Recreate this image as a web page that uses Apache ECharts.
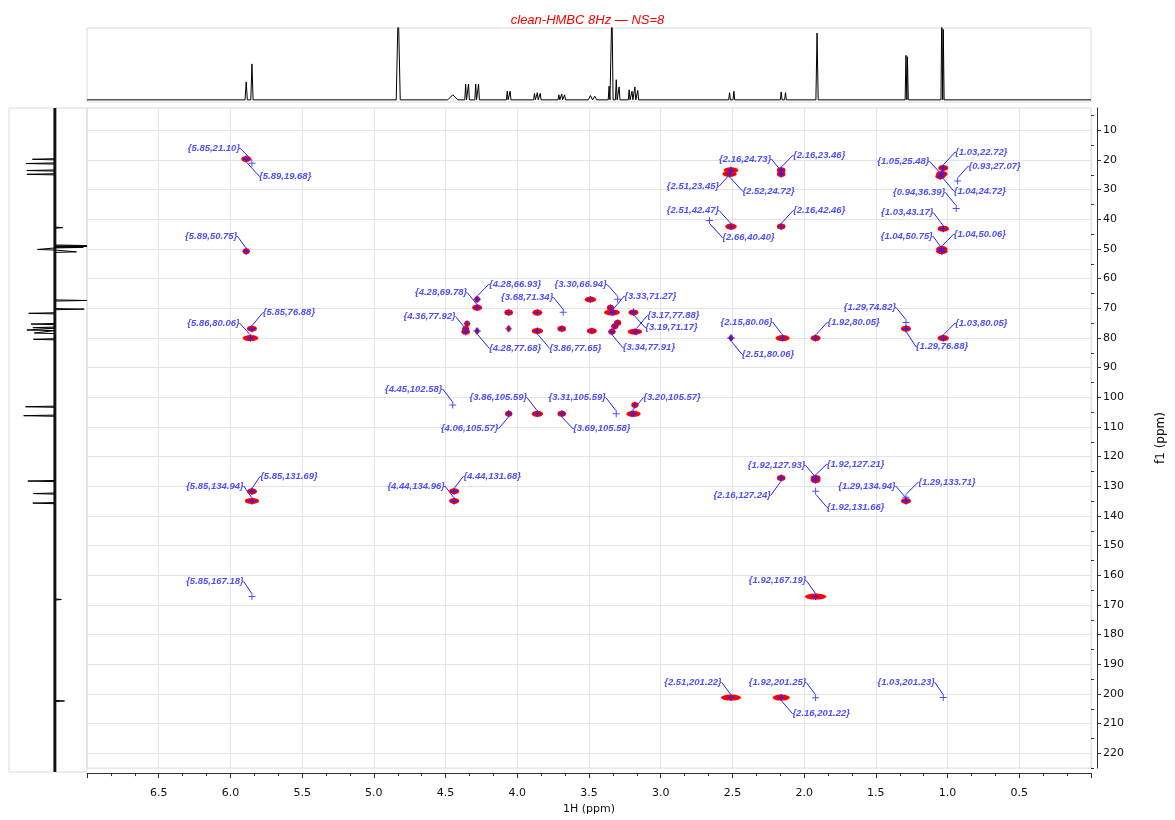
<!DOCTYPE html>
<html>
<head>
<meta charset="utf-8">
<title>clean-HMBC 8Hz</title>
<script src="https://cdn.jsdelivr.net/npm/echarts@6/dist/echarts.min.js"></script>
<style>html,body{margin:0;padding:0;background:#fff;}</style>
</head>
<body>
<div id="main" style="width:1175px;height:820px;"></div>
<script>
// 1H projection: [ppm, height, half width in ppm]
var hPeaks = [
  [5.89, 0.25, 0.008], [5.85, 0.50, 0.008],
  [4.83, 1.30, 0.014],
  [4.45, 0.07, 0.035],
  [4.36, 0.22, 0.006], [4.34, 0.22, 0.006], [4.29, 0.22, 0.006], [4.27, 0.22, 0.006],
  [4.07, 0.12, 0.006], [4.05, 0.12, 0.006],
  [3.88, 0.09, 0.006], [3.86, 0.10, 0.006], [3.84, 0.09, 0.006],
  [3.71, 0.07, 0.006], [3.69, 0.08, 0.006], [3.67, 0.07, 0.006],
  [3.49, 0.06, 0.015], [3.46, 0.05, 0.015],
  [3.36, 0.19, 0.006], [3.34, 1.30, 0.008], [3.31, 0.28, 0.006], [3.29, 0.18, 0.006],
  [3.22, 0.14, 0.006], [3.20, 0.12, 0.006], [3.18, 0.18, 0.006], [3.16, 0.13, 0.006],
  [2.65, 0.01, 0.005],
  [2.52, 0.10, 0.006], [2.49, 0.12, 0.006],
  [2.16, 0.11, 0.006], [2.13, 0.10, 0.006],
  [1.91, 0.93, 0.008],
  [1.29, 0.62, 0.006], [1.28, 0.60, 0.006],
  [1.04, 1.30, 0.006], [1.03, 0.98, 0.006],
  [0.93, 0.01, 0.010]
];

// 13C projection: [ppm, intensity] (negative = drawn to the right)
var cPeaks = [
  [19.68, 0.49], [21.10, 0.63], [23.45, 0.61], [24.72, 0.61],
  [42.6, -0.17],
  [48.6, -0.70], [48.9, -0.70], [49.2, -0.62],
  [49.9, 0.38], [50.7, -0.47],
  [67.0, -0.70], [69.9, -0.64],
  [71.3, 0.57], [74.9, 0.52], [76.1, 0.48], [76.9, 0.61], [77.9, 0.45], [80.0, 0.47],
  [102.6, 0.64], [105.6, 0.68],
  [127.5, 0.59], [131.7, 0.47], [134.9, 0.48],
  [167.2, -0.14],
  [201.2, -0.21]
];

// HMBC contour spots: [1H ppm, 13C ppm, spread in 1H ppm]
var contourPeaks = [
  [5.89, 19.68, 0.07], [5.89, 50.75, 0.05], [5.85, 76.88, 0.07], [5.86, 80.06, 0.11],
  [5.85, 131.69, 0.07], [5.85, 134.94, 0.10],
  [4.28, 66.93, 0.04], [4.28, 69.78, 0.07], [4.06, 71.45, 0.06], [3.86, 71.45, 0.07],
  [3.49, 67.05, 0.08], [3.35, 69.80, 0.05], [3.34, 71.40, 0.11], [3.19, 71.40, 0.07],
  [4.35, 75.20, 0.04], [4.36, 77.00, 0.05], [4.36, 77.92, 0.06], [4.28, 77.68, 0.03],
  [4.06, 76.90, 0.03], [3.86, 77.65, 0.08], [3.69, 76.90, 0.06], [3.48, 77.65, 0.07],
  [3.30, 74.90, 0.05], [3.32, 76.10, 0.05], [3.34, 77.91, 0.05], [3.18, 77.90, 0.10],
  [4.06, 105.57, 0.05], [3.86, 105.59, 0.08], [3.69, 105.58, 0.06], [3.19, 105.57, 0.10],
  [3.18, 102.60, 0.05],
  [4.44, 131.68, 0.07], [4.44, 134.96, 0.07],
  [2.51, 23.45, 0.10], [2.52, 24.72, 0.10], [2.16, 23.46, 0.06], [2.16, 24.73, 0.06],
  [1.03, 22.72, 0.07], [1.04, 24.72, 0.08], [1.05, 25.48, 0.07],
  [2.51, 42.47, 0.08], [2.16, 42.46, 0.06], [1.03, 43.17, 0.08],
  [1.04, 50.06, 0.08], [1.04, 50.75, 0.08],
  [2.51, 80.06, 0.03], [2.15, 80.06, 0.10], [1.92, 80.05, 0.07], [1.29, 76.88, 0.07], [1.03, 80.05, 0.08],
  [2.16, 127.24, 0.06], [1.92, 127.21, 0.07], [1.92, 127.93, 0.07], [1.29, 134.94, 0.07],
  [1.92, 167.19, 0.15],
  [2.51, 201.22, 0.14], [2.16, 201.22, 0.12]
];

// annotated peaks [1H ppm, 13C ppm]
var labeledPeaks = [
  [5.85, 21.10], [5.89, 19.68], [5.89, 50.75], [5.85, 76.88], [5.86, 80.06],
  [5.85, 134.94], [5.85, 131.69], [5.85, 167.18],
  [4.28, 69.78], [4.28, 66.93], [3.68, 71.34], [3.30, 66.94], [3.33, 71.27],
  [3.17, 77.88], [3.19, 71.17], [4.36, 77.92], [4.28, 77.68], [3.86, 77.65], [3.34, 77.91],
  [4.45, 102.58], [3.86, 105.59], [4.06, 105.57], [3.31, 105.59], [3.69, 105.58], [3.20, 105.57],
  [4.44, 134.96], [4.44, 131.68],
  [2.16, 24.73], [2.16, 23.46], [2.51, 23.45], [2.52, 24.72],
  [2.51, 42.47], [2.66, 40.40], [2.16, 42.46],
  [1.05, 25.48], [1.03, 22.72], [0.93, 27.07], [1.04, 24.72], [0.94, 36.39],
  [1.03, 43.17], [1.04, 50.75], [1.04, 50.06],
  [2.15, 80.06], [2.51, 80.06], [1.92, 80.05], [1.29, 74.82], [1.29, 76.88], [1.03, 80.05],
  [1.92, 127.93], [1.92, 127.21], [2.16, 127.24], [1.92, 131.66], [1.29, 134.94], [1.29, 133.71],
  [1.92, 167.19],
  [2.51, 201.22], [1.92, 201.25], [2.16, 201.22], [1.03, 201.23]
];

// where each annotation sits relative to its peak (px)
var labelOffsets = [
  [-38, -15], [39, 17], [-35, -15], [37, -16], [-37, -15],
  [-37, -15], [37, -15], [-37, -15],
  [-36, -15], [38, -15], [-36, -15], [-37, -15], [37, -16],
  [37, -16], [38, 16], [-36, -15], [38, 17], [38, 17], [37, 16],
  [-39, -16], [-39, -16], [-39, 15], [-39, -16], [40, 15], [40, -16],
  [-38, -15], [38, -15],
  [-36, -15], [38, -15], [-38, 16], [39, 17],
  [-38, -16], [39, 17], [38, -16],
  [-37, -15], [38, -16], [37, -15], [38, 17], [-37, -16],
  [-36, -16], [-35, -15], [38, -15],
  [-36, -16], [37, 16], [38, -16], [-36, -15], [36, 18], [38, -15],
  [-39, -15], [40, -14], [-39, 17], [40, 16], [-39, -15], [41, -15],
  [-38, -16],
  [-38, -15], [-38, -15], [40, 16], [-37, -15]
];

var cTicks = [10, 20, 30, 40, 50, 60, 70, 80, 90, 100, 110, 120, 130, 140, 150,
  160, 170, 180, 190, 200, 210, 220];
var cMinorTicks = [5, 15, 25, 35, 45, 55, 65, 75, 85, 95, 105, 115, 125, 135, 145,
  155, 165, 175, 185, 195, 205, 215, 225];

var H_MIN = 0, H_MAX = 7, C_MIN = 2.5, C_MAX = 225;
var PLOT_W = 1004;
var pxPerPpm = PLOT_W / (H_MAX - H_MIN);
var blue = '#2222ff';
var crossPath = 'path://M0,3h7v1h-7z M3,0h1v7h-1z';

// build stick traces for the projections
function hTrace() {
  var pts = [[H_MAX, 0]];
  hPeaks.slice().sort(function (a, b) { return b[0] - a[0]; }).forEach(function (p) {
    pts.push([p[0] + p[2], 0], [p[0], p[1]], [p[0] - p[2], 0]);
  });
  pts.push([H_MIN, 0]);
  return pts;
}
function cTrace() {
  var w = 0.2;
  var pts = [[0, C_MIN]];
  cPeaks.slice().sort(function (a, b) { return a[0] - b[0]; }).forEach(function (p) {
    pts.push([0, p[0] - w], [p[1], p[0]], [0, p[0] + w]);
  });
  pts.push([0, C_MAX]);
  return pts;
}

var axisFont = 'DejaVu Sans';
var myChart = echarts.init(document.getElementById('main'));

var option = {
  animation: false,
  backgroundColor: '#fff',
  title: {
    text: 'clean-HMBC 8Hz \u2014 NS=8',
    left: 'center',
    top: 9,
    textStyle: {color: '#ff0000', fontStyle: 'italic', fontWeight: 'normal', fontSize: 13, fontFamily: 'Liberation Sans'}
  },
  grid: [
    {left: 87, top: 108, width: PLOT_W, height: 664, show: true, borderColor: '#dcdcdc', borderWidth: 1},
    {left: 87, top: 28, width: PLOT_W, height: 74, show: true, borderColor: '#dcdcdc', borderWidth: 1},
    {left: 9, top: 108, width: 78, height: 664, show: true, borderColor: '#dcdcdc', borderWidth: 1}
  ],
  xAxis: [
    {
      gridIndex: 0, type: 'value', min: H_MIN, max: H_MAX, interval: 0.5, inverse: true,
      position: 'bottom', offset: 5,
      axisLine: {show: true, onZero: false, lineStyle: {color: '#333'}},
      axisTick: {show: true, length: 5, lineStyle: {color: '#333'}},
      minorTick: {show: true, splitNumber: 3, length: 3, lineStyle: {color: '#333'}},
      axisLabel: {
        formatter: function (v) { return v.toFixed(1); },
        showMinLabel: false, showMaxLabel: false,
        color: '#111', fontSize: 11, fontFamily: axisFont, margin: 15
      },
      splitLine: {show: true, lineStyle: {color: '#e4e4e4'}},
      name: '1H (ppm)', nameLocation: 'middle', nameGap: 27,
      nameTextStyle: {color: '#111', fontSize: 11, fontFamily: axisFont}
    },
    {gridIndex: 1, type: 'value', min: H_MIN, max: H_MAX, inverse: true, show: false},
    {gridIndex: 2, type: 'value', min: -0.7, max: 1.0, inverse: true, show: false}
  ],
  yAxis: [
    {
      gridIndex: 0, type: 'value', min: C_MIN, max: C_MAX, minInterval: 10, maxInterval: 10,
      inverse: true, position: 'right', offset: 6,
      axisLine: {show: true, onZero: false, lineStyle: {color: '#333'}},
      axisTick: {show: true, length: 4, customValues: cTicks, lineStyle: {color: '#333'}},
      axisLabel: {customValues: cTicks,
        color: '#111', fontSize: 11, fontFamily: axisFont, margin: 6},
      splitLine: {show: true, lineStyle: {color: '#e4e4e4'}},
      name: 'f1 (ppm)', nameLocation: 'middle', nameRotate: 90, nameGap: 58,
      nameTextStyle: {color: '#111', fontSize: 12, fontFamily: axisFont}
    },
    {gridIndex: 1, type: 'value', min: -0.03, max: 1, show: false},
    {gridIndex: 2, type: 'value', min: C_MIN, max: C_MAX, inverse: true, show: false},
    {
      gridIndex: 0, type: 'value', min: C_MIN, max: C_MAX, inverse: true, position: 'right', offset: 6,
      axisLine: {show: false},
      axisTick: {show: true, length: 3, customValues: cMinorTicks, lineStyle: {color: '#333'}},
      axisLabel: {show: false},
      splitLine: {show: false}
    }
  ],
  series: [
    {
      name: '1H', type: 'line', xAxisIndex: 1, yAxisIndex: 1,
      data: hTrace(), showSymbol: false, silent: true,
      lineStyle: {color: '#000', width: 1}
    },
    {
      name: '13C base', type: 'line', xAxisIndex: 2, yAxisIndex: 2,
      data: [[0, C_MIN], [0, C_MAX]], showSymbol: false, silent: true,
      lineStyle: {color: '#222', width: 3}
    },
    {
      name: '13C', type: 'line', xAxisIndex: 2, yAxisIndex: 2,
      data: cTrace(), showSymbol: false, silent: true,
      lineStyle: {color: '#000', width: 1}
    },
    {
      name: 'contours', type: 'scatter', xAxisIndex: 0, yAxisIndex: 0,
      data: contourPeaks, silent: true,
      symbol: 'circle',
      symbolSize: function (v) { return [Math.max(4, v[2] * pxPerPpm), 6]; },
      itemStyle: {color: '#ff0000', opacity: 1}
    },
    {
      name: 'contour centres', type: 'scatter', xAxisIndex: 0, yAxisIndex: 0,
      data: contourPeaks.map(function (p) { return [p[0], p[1]]; }), silent: true,
      symbol: crossPath, symbolSize: 7,
      itemStyle: {color: blue}
    },
    {
      name: 'peaks', type: 'scatter', xAxisIndex: 0, yAxisIndex: 0,
      data: labeledPeaks, silent: true,
      symbol: crossPath, symbolSize: 7,
      itemStyle: {color: blue},
      label: {
        show: true, position: 'inside',
        formatter: function (p) { return '{' + p.value[0].toFixed(2) + ',' + p.value[1].toFixed(2) + '}'; },
        color: blue, fontFamily: 'Liberation Sans', fontStyle: 'italic', fontWeight: 'bold', fontSize: 9.5
      },
      labelLine: {show: true, lineStyle: {color: blue, width: 1}},
      labelLayout: function (params) {
        var o = labelOffsets[params.dataIndex];
        return {dx: o[0], dy: o[1]};
      }
    }
  ]
};

myChart.setOption(option);
</script>
</body>
</html>
